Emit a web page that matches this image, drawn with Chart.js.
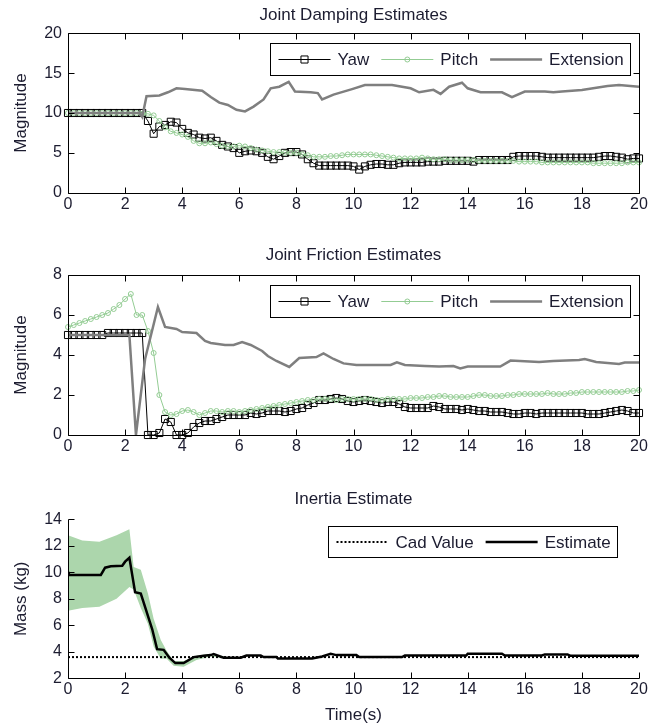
<!DOCTYPE html>
<html>
<head>
<meta charset="utf-8">
<script src="https://cdn.jsdelivr.net/npm/chart.js@4"></script>
<style>
  body { margin: 0; background: #fff; width: 660px; height: 726px; position: relative; overflow: hidden; }
  canvas { position: absolute; left: 0; }
</style>
</head>
<body>
<canvas id="damping" width="660" height="240" style="top:0px"></canvas>
<canvas id="friction" width="660" height="240" style="top:240px"></canvas>
<canvas id="inertia" width="660" height="246" style="top:480px"></canvas>
<script>
// sample times of the yaw / pitch estimates (s)
const stepT = [
  0, 0.2, 0.4, 0.6, 0.8, 1, 1.2, 1.4, 1.6, 1.8,
  2, 2.2, 2.4, 2.6, 2.8, 3, 3.2, 3.4, 3.6, 3.8,
  4, 4.2, 4.4, 4.6, 4.8, 5, 5.2, 5.4, 5.6, 5.8,
  6, 6.2, 6.4, 6.6, 6.8, 7, 7.2, 7.4, 7.6, 7.8,
  8, 8.2, 8.4, 8.6, 8.8, 9, 9.2, 9.4, 9.6, 9.8,
  10, 10.2, 10.4, 10.6, 10.8, 11, 11.2, 11.4, 11.6, 11.8,
  12, 12.2, 12.4, 12.6, 12.8, 13, 13.2, 13.4, 13.6, 13.8,
  14, 14.2, 14.4, 14.6, 14.8, 15, 15.2, 15.4, 15.6, 15.8,
  16, 16.2, 16.4, 16.6, 16.8, 17, 17.2, 17.4, 17.6, 17.8,
  18, 18.2, 18.4, 18.6, 18.8, 19, 19.2, 19.4, 19.6, 19.8,
  20
];

// Joint damping
const dampYaw = [
  10, 10, 10, 10, 10, 10, 10, 10, 10, 10, 10, 10, 10, 10,
  9.0, 7.4, 8.3, 8.5, 8.9, 8.8, 8.0,
  7.5, 7.3, 6.9, 6.8, 6.9, 6.5, 6.0, 5.8, 5.6, 5.0,
  5.2, 5.3, 5.2, 5.0, 4.5, 4.2, 4.6, 5.0, 5.1, 5.1,
  4.8, 4.2, 3.7, 3.4, 3.4, 3.4, 3.4, 3.4, 3.4, 3.3,
  2.9, 3.3, 3.5, 3.6, 3.6, 3.5, 3.5, 3.7, 3.8, 3.8,
  3.8, 3.8, 3.9, 3.9, 3.9, 4.0, 4.0, 4.0, 4.0, 4.0,
  3.9, 4.1, 4.1, 4.1, 4.1, 4.1, 4.1, 4.5, 4.6, 4.6,
  4.6, 4.6, 4.5, 4.4, 4.4, 4.4, 4.4, 4.4, 4.4, 4.4,
  4.4, 4.4, 4.5, 4.6, 4.6, 4.5, 4.4, 4.2, 4.3, 4.3
];
const dampPitch = [
  10, 10, 10, 10, 10, 10, 10, 10, 10, 10, 10, 10, 10,
  9.9, 9.9, 9.7, 9.0, 8.2, 7.7, 7.5, 7.3,
  7.0, 6.5, 6.2, 6.2, 6.3, 6.1, 5.9, 5.8, 5.8, 5.9,
  5.8, 5.6, 5.4, 5.3, 5.2, 5.1, 5.1, 5.0, 5.0, 5.0,
  4.8, 4.7, 4.5, 4.5, 4.5, 4.6, 4.6, 4.7, 4.8, 4.8,
  4.8, 4.8, 4.8, 4.7, 4.6, 4.5, 4.4, 4.3, 4.3, 4.3,
  4.3, 4.4, 4.3, 4.2, 4.2, 4.2, 4.1, 4.1, 4.1, 4.1,
  4.1, 4.0, 4.0, 4.0, 4.0, 4.0, 4.0, 4.0, 3.9, 3.9,
  3.9, 3.9, 3.8, 3.8, 3.8, 3.8, 3.8, 3.8, 3.8, 3.8,
  3.8, 3.7, 3.7, 3.7, 3.7, 3.7, 3.7, 3.8, 3.8, 3.8
];
const dampExtT = [0, 2.5, 2.6, 2.75, 3.2, 3.5, 3.8, 4.1, 4.7, 5.0, 5.3, 5.6, 5.9, 6.2, 6.5, 6.85, 7.1, 7.4,
  7.73, 7.95, 8.5, 8.75, 8.9, 9.3, 9.95, 10.4, 11.35, 12.0, 12.3, 12.8, 13.05, 13.35, 13.8, 14.0,
  14.45, 15.2, 15.55, 16.0, 16.7, 17.0, 17.3, 18.0, 18.9, 19.3, 20];
const dampExtV = [10, 10, 9.5, 12.1, 12.2, 12.6, 13.1, 13.0, 12.8, 12.0, 11.3, 11.0, 10.4, 10.2, 10.8, 11.7, 13.1, 13.3,
  13.9, 12.7, 12.6, 12.5, 11.7, 12.3, 13.0, 13.5, 13.5, 13.1, 12.6, 12.9, 12.4, 13.3, 13.8, 13.1,
  12.6, 12.6, 12.0, 12.7, 12.7, 12.6, 12.7, 12.9, 13.4, 13.5, 13.3];

// Joint friction
const friYaw = [
  5.0, 5.0, 5.0, 5.0, 5.0, 5.0, 5.0,
  5.1, 5.1, 5.1, 5.1, 5.1, 5.1, 5.1,
  0, 0, 0.1, 0.8, 0.65, 0, 0,
  0.1, 0.4, 0.6, 0.7, 0.7, 0.8, 0.9, 1.0, 1.0, 1.0,
  1.0, 1.1, 1.05, 1.1, 1.2, 1.2, 1.2, 1.15, 1.2, 1.3,
  1.35, 1.5, 1.6, 1.75, 1.75, 1.8, 1.85, 1.8, 1.7, 1.65,
  1.7, 1.75, 1.7, 1.65, 1.6, 1.65, 1.65, 1.55, 1.4, 1.35,
  1.35, 1.35, 1.35, 1.45, 1.4, 1.3, 1.3, 1.3, 1.25, 1.3,
  1.25, 1.2, 1.2, 1.15, 1.15, 1.15, 1.1, 1.05, 1.05, 1.1,
  1.1, 1.05, 1.1, 1.1, 1.1, 1.1, 1.1, 1.1, 1.1, 1.1,
  1.05, 1.05, 1.05, 1.1, 1.15, 1.2, 1.25, 1.2, 1.1, 1.1
];
const friPitch = [
  5.4, 5.5, 5.6, 5.7, 5.8, 5.9, 6.0, 6.1, 6.3, 6.5, 6.8,
  7.05, 6.0, 6.0, 5.2, 4.1, 2.0, 1.15, 1.0, 1.05, 1.2,
  1.25, 1.15, 1.0, 1.1, 1.2, 1.2, 1.15, 1.2, 1.2, 1.15,
  1.2, 1.25, 1.3, 1.35, 1.4, 1.45, 1.5, 1.55, 1.6, 1.65,
  1.7, 1.75, 1.75, 1.8, 1.8, 1.8, 1.75, 1.8, 1.8, 1.8,
  1.8, 1.8, 1.8, 1.75, 1.75, 1.8, 1.8, 1.8, 1.8, 1.85,
  1.85, 1.85, 1.9, 1.9, 1.95, 1.95, 1.9, 1.9, 1.9, 1.9,
  1.95, 2.0, 2.0, 1.95, 1.95, 1.95, 2.0, 2.0, 2.05, 2.05,
  2.05, 2.05, 2.05, 2.1, 2.05, 2.05, 2.05, 2.1, 2.1, 2.15,
  2.15, 2.15, 2.15, 2.15, 2.15, 2.15, 2.15, 2.2, 2.2, 2.25
];
const friExtT = [0, 2.15, 2.38, 2.7, 3.15, 3.4, 3.8, 4.0, 4.5, 4.8, 5.0, 5.5, 5.8, 6.1, 6.4, 6.8, 7.0, 7.3,
  7.75, 8.1, 8.7, 8.95, 9.3, 9.65, 10.1, 11.3, 11.52, 11.8, 12.5, 13.0, 13.5, 13.74, 14.0, 15.14,
  15.5, 16.5, 17.0, 17.9, 18.1, 18.5, 19.3, 19.5, 20];
const friExtV = [5.0, 5.0, 0, 3.8, 6.4, 5.4, 5.3, 5.15, 5.1, 4.7, 4.6, 4.5, 4.5, 4.65, 4.5, 4.2, 3.95, 3.7,
  3.4, 3.85, 3.9, 4.08, 3.8, 3.58, 3.5, 3.5, 3.63, 3.5, 3.45, 3.42, 3.45, 3.33, 3.42, 3.42,
  3.72, 3.65, 3.7, 3.75, 3.8, 3.65, 3.55, 3.62, 3.62];

// Inertia
const cadT = [0, 20];
const cadV = [3.6, 3.6];
const estT = [0, 0.05, 1.15, 1.3, 1.5, 1.9, 2.0, 2.15, 2.35, 2.55, 2.95, 3.12, 3.35, 3.55, 3.76, 4.05, 4.4, 4.75,
  5.0, 5.1, 5.45, 6.05, 6.25, 6.75, 6.85, 7.3, 7.35, 8.55, 8.9, 9.2, 9.4, 10.1, 10.2, 11.7, 11.8,
  13.95, 14.0, 15.2, 15.3, 16.6, 16.7, 17.5, 17.6, 20];
const estV = [10.05, 9.8, 9.8, 10.35, 10.45, 10.5, 10.8, 11.1, 8.5, 8.4, 5.7, 4.2, 4.15, 3.55, 3.15, 3.15, 3.6, 3.7,
  3.75, 3.82, 3.55, 3.55, 3.72, 3.72, 3.6, 3.6, 3.5, 3.5, 3.65, 3.85, 3.75, 3.75, 3.6, 3.6, 3.72,
  3.72, 3.85, 3.85, 3.72, 3.72, 3.8, 3.8, 3.7, 3.7];
const bandT = [0, 0.5, 1.1, 1.7, 2.15, 2.3, 2.55, 2.8, 3.0, 3.25, 3.45, 3.7, 4.05, 4.5, 5.0, 5.5];
const bandHi = [12.8, 12.4, 12.3, 12.8, 13.25, 10.4, 10.2, 8.4, 6.5, 4.9, 4.1, 3.3, 3.3, 3.7, 3.85, 3.65];
const bandLo = [7.1, 7.3, 7.4, 8.0, 8.9, 8.7, 7.3, 6.1, 4.4, 3.47, 3.5, 2.95, 2.88, 3.38, 3.65, 3.5];

// tick labels
const xTicks = [0, 2, 4, 6, 8, 10, 12, 14, 16, 18, 20];
const dampTicks = [0, 5, 10, 15, 20];
const friTicks = [0, 2, 4, 6, 8];
const massTicks = [2, 4, 6, 8, 10, 12, 14];

const TXT = '#1c1c30';
const PITCH = '#93cc93';
const EXT = '#7f7f7f';
const FONT = "'Liberation Sans', Arial, sans-serif";

Chart.defaults.font.family = FONT;
Chart.defaults.font.size = 16;
Chart.defaults.color = TXT;

const pairs = (t, v) => t.map((x, i) => ({ x, y: v[i] }));

function drawMarker(ctx, style, x, y, r, color) {
  ctx.save();
  ctx.strokeStyle = color;
  ctx.lineWidth = 1;
  ctx.beginPath();
  if (style === 'rect') {
    const s = r * Math.SQRT1_2;
    ctx.rect(x - s, y - s, 2 * s, 2 * s);
  } else {
    ctx.arc(x, y, r, 0, Math.PI * 2);
  }
  ctx.stroke();
  ctx.restore();
}

function drawLegend(ctx, a, lg) {
  const padL = 8, padR = 7, lineLen = 52, gapT = 7, gapI = 12;
  ctx.save();
  ctx.font = '17px ' + FONT;
  let w = padL;
  lg.items.forEach((it, i) => {
    w += lineLen + gapT + ctx.measureText(it.label).width + (i < lg.items.length - 1 ? gapI : padR);
  });
  const x0 = Math.round(a.right - lg.right - w) + 0.5;
  const y0 = Math.round(a.top + lg.top) + 0.5;
  const h = lg.height, cy = y0 + h / 2;
  ctx.fillStyle = '#fff';
  ctx.fillRect(x0, y0, w, h);
  ctx.strokeStyle = '#000';
  ctx.lineWidth = 1;
  ctx.strokeRect(x0, y0, Math.round(w), h);
  let x = x0 + padL;
  lg.items.forEach((it) => {
    ctx.save();
    ctx.strokeStyle = it.color;
    ctx.lineWidth = it.width;
    ctx.setLineDash(it.dash || []);
    ctx.beginPath();
    ctx.moveTo(x, cy);
    ctx.lineTo(x + lineLen, cy);
    ctx.stroke();
    ctx.restore();
    if (it.point) {
      drawMarker(ctx, it.point, x + lineLen / 2, cy, it.radius, it.color);
    }
    x += lineLen + gapT;
    ctx.fillStyle = TXT;
    ctx.textBaseline = 'middle';
    ctx.textAlign = 'left';
    ctx.fillText(it.label, x, cy + 1);
    x += ctx.measureText(it.label).width + gapI;
  });
  ctx.restore();
}

// MATLAB-like axes: frame, inward ticks and boxed legend
const matlabAxes = {
  id: 'matlabAxes',
  afterDatasetsDraw(chart, args, opts) {
    const { ctx, chartArea: a, scales: { x, y } } = chart;
    const L = Math.round(a.left) + 0.5, R = Math.round(a.right) + 0.5;
    const T = Math.round(a.top) + 0.5, B = Math.round(a.bottom) + 0.5;
    const tl = 6;
    ctx.save();
    ctx.strokeStyle = '#000';
    ctx.lineWidth = 1;
    ctx.beginPath();
    if (opts.box) {
      ctx.rect(L, T, R - L, B - T);
    } else {
      ctx.moveTo(L, T);
      ctx.lineTo(L, B);
      ctx.lineTo(R, B);
    }
    x.ticks.forEach((t) => {
      const px = Math.round(x.getPixelForValue(t.value)) + 0.5;
      ctx.moveTo(px, B); ctx.lineTo(px, B - tl);
      if (opts.box) { ctx.moveTo(px, T); ctx.lineTo(px, T + tl); }
    });
    y.ticks.forEach((t) => {
      const py = Math.round(y.getPixelForValue(t.value)) + 0.5;
      ctx.moveTo(L, py); ctx.lineTo(L + tl, py);
      if (opts.box) { ctx.moveTo(R, py); ctx.lineTo(R - tl, py); }
    });
    ctx.stroke();
    ctx.restore();
    if (opts.legend) drawLegend(ctx, a, opts.legend);
  }
};

function makeOptions(p) {
  return {
    responsive: false,
    animation: false,
    events: [],
    layout: { padding: { left: 0, right: 21, top: 0, bottom: 0 } },
    plugins: {
      legend: { display: false },
      tooltip: { enabled: false },
      title: {
        display: true, text: p.title, color: TXT, fullSize: false,
        font: { size: 17, weight: 'normal' },
        padding: { top: p.tTop, bottom: p.tBottom }
      },
      matlabAxes: { box: p.box, legend: p.legend }
    },
    scales: {
      x: {
        type: 'linear', min: 0, max: 20,
        afterBuildTicks: (s) => { s.ticks = xTicks.map((v) => ({ value: v })); },
        afterFit: (s) => { s.height = p.xh; s.paddingLeft = 0; s.paddingRight = 0; },
        grid: { display: false, drawTicks: false },
        border: { display: false },
        ticks: { padding: p.xPad, color: TXT, maxRotation: 0, autoSkip: false },
        title: p.xTitle
          ? { display: true, text: p.xTitle, color: TXT, font: { size: 17 }, padding: { top: 0, bottom: 0 } }
          : { display: false }
      },
      y: {
        type: 'linear', min: p.yTicks[0], max: p.yTicks[p.yTicks.length - 1],
        afterBuildTicks: (s) => { s.ticks = p.yTicks.map((v) => ({ value: v })); },
        afterFit: (s) => { s.width = 68; s.paddingTop = 0; s.paddingBottom = 0; },
        grid: { display: false, drawTicks: false },
        border: { display: false },
        ticks: { padding: 6, color: TXT, autoSkip: false },
        title: { display: true, text: p.yTitle, color: TXT, font: { size: 17 }, padding: { top: 11.5, bottom: 0 } }
      }
    }
  };
}

const yawLegend = { label: 'Yaw', color: '#000', width: 1, point: 'rect', radius: 5 };
const pitchLegend = { label: 'Pitch', color: PITCH, width: 1, point: 'circle', radius: 2.5 };
const extLegend = { label: 'Extension', color: EXT, width: 2.5 };

function jointDatasets(yaw, pitch, extT, extV) {
  return [
    {
      label: 'Yaw', data: pairs(stepT, yaw), borderColor: '#000', borderWidth: 1,
      pointStyle: 'rect', pointRadius: 5, pointBorderColor: '#000', pointBorderWidth: 1,
      pointBackgroundColor: 'rgba(0,0,0,0)', order: 3, clip: false
    },
    {
      label: 'Pitch', data: pairs(stepT, pitch), borderColor: PITCH, borderWidth: 1,
      pointStyle: 'circle', pointRadius: 2.5, pointBorderColor: PITCH, pointBorderWidth: 1,
      pointBackgroundColor: 'rgba(0,0,0,0)', order: 2, clip: false
    },
    {
      label: 'Extension', data: pairs(extT, extV), borderColor: EXT, borderWidth: 2.5,
      pointRadius: 0, order: 1
    }
  ];
}

new Chart(document.getElementById('damping'), {
  type: 'line',
  data: { datasets: jointDatasets(dampYaw, dampPitch, dampExtT, dampExtV) },
  options: makeOptions({
    title: 'Joint Damping Estimates', tTop: 4.8, tBottom: 8.1, xh: 47.3, xPad: 2,
    yTicks: dampTicks, yTitle: 'Magnitude', box: true,
    legend: { right: 9, top: 10, height: 32, items: [yawLegend, pitchLegend, extLegend] }
  }),
  plugins: [matlabAxes]
});

new Chart(document.getElementById('friction'), {
  type: 'line',
  data: { datasets: jointDatasets(friYaw, friPitch, friExtT, friExtV) },
  options: makeOptions({
    title: 'Joint Friction Estimates', tTop: 4.8, tBottom: 9.8, xh: 45, xPad: 2,
    yTicks: friTicks, yTitle: 'Magnitude', box: true,
    legend: { right: 9, top: 10, height: 32, items: [yawLegend, pitchLegend, extLegend] }
  }),
  plugins: [matlabAxes]
});

new Chart(document.getElementById('inertia'), {
  type: 'line',
  data: {
    datasets: [
      {
        label: 'band+', data: pairs(bandT, bandHi), borderColor: 'rgba(0,0,0,0)', borderWidth: 0,
        pointRadius: 0, fill: '+1', backgroundColor: 'rgb(172,214,172)', order: 5
      },
      {
        label: 'band-', data: pairs(bandT, bandLo), borderColor: 'rgba(0,0,0,0)', borderWidth: 0,
        pointRadius: 0, fill: false, order: 4
      },
      {
        label: 'Cad Value', data: pairs(cadT, cadV), borderColor: '#000', borderWidth: 2,
        borderDash: [2, 2], pointRadius: 0, order: 2
      },
      {
        label: 'Estimate', data: pairs(estT, estV), borderColor: '#000', borderWidth: 2.5,
        pointRadius: 0, order: 1
      }
    ]
  },
  options: makeOptions({
    title: 'Inertia Estimate', tTop: 8.8, tBottom: 10.1, xh: 47.7, xPad: 2, xTitle: 'Time(s)',
    yTicks: massTicks, yTitle: 'Mass (kg)', box: false,
    legend: {
      right: 22, top: 6.7, height: 31, items: [
        { label: 'Cad Value', color: '#000', width: 2, dash: [2, 2] },
        { label: 'Estimate', color: '#000', width: 2.5 }
      ]
    }
  }),
  plugins: [matlabAxes]
});
</script>
</body>
</html>
